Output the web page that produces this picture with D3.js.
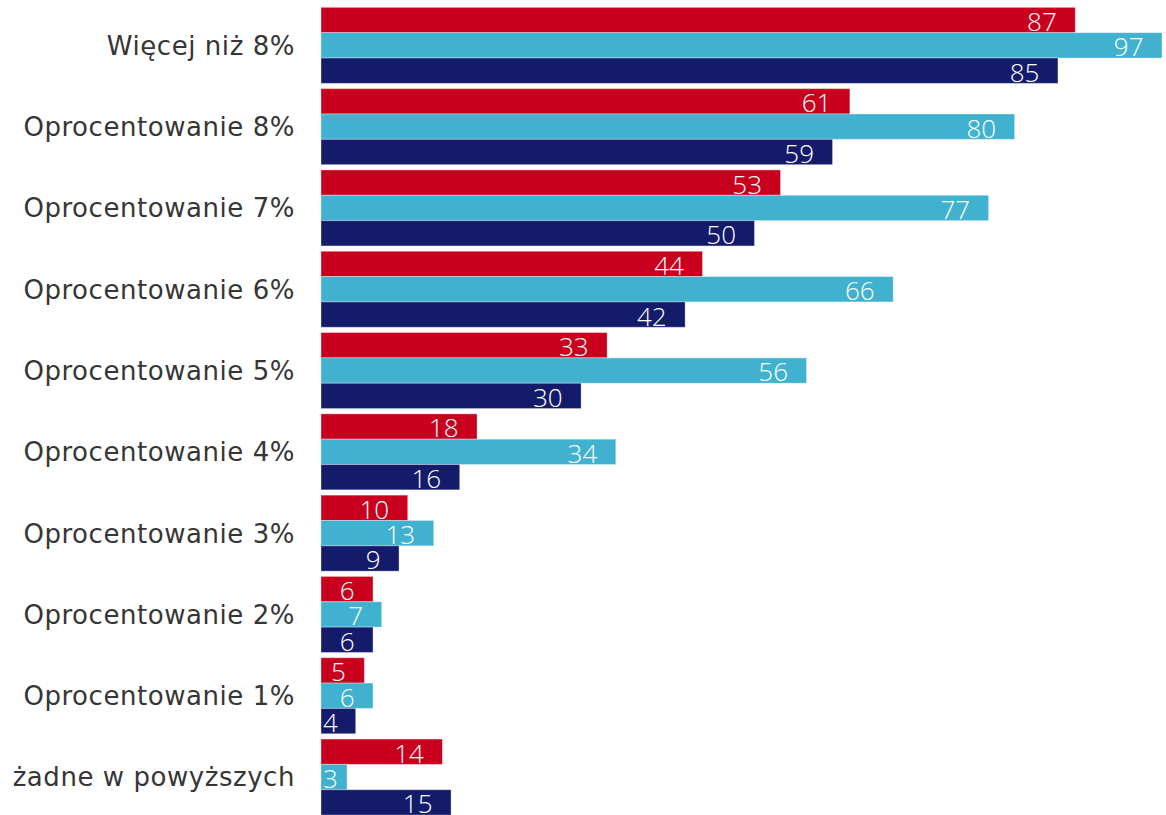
<!DOCTYPE html>
<html>
<head>
<meta charset="utf-8">
<script src="https://cdn.jsdelivr.net/npm/d3@7"></script>
<style>
  html, body { margin: 0; padding: 0; background: #fff; }
  svg { display: block; }
</style>
</head>
<body>
<svg id="chart" width="1166" height="815"></svg>
<script>
// Answer categories, top to bottom
const categories = [
  "Więcej niż 8%",
  "Oprocentowanie 8%",
  "Oprocentowanie 7%",
  "Oprocentowanie 6%",
  "Oprocentowanie 5%",
  "Oprocentowanie 4%",
  "Oprocentowanie 3%",
  "Oprocentowanie 2%",
  "Oprocentowanie 1%",
  "żadne w powyższych"
];

// Three respondent groups, one value per category
const seriesNames = ["s1", "s2", "s3"];
const redValues   = [87, 61, 53, 44, 33, 18, 10, 6, 5, 14];
const cyanValues  = [97, 80, 77, 66, 56, 34, 13, 7, 6, 3];
const navyValues  = [85, 59, 50, 42, 30, 16, 9, 6, 4, 15];
const seriesColors = ["#c8001e", "#40b1cf", "#141b6b"];

const seriesValues = [redValues, cyanValues, navyValues];
const rows = categories.map((c, i) => ({
  category: c,
  values: seriesNames.map((s, j) => ({ series: s, value: seriesValues[j][i], color: seriesColors[j] }))
}));

const svg = d3.select("#chart");

const x = d3.scaleLinear().domain([0, 100]).range([321, 1188]);

const y = d3.scaleBand()
  .domain(categories)
  .range([4.7, 817.7])
  .paddingInner(0.065)
  .paddingOuter(0.0325);

const ySub = d3.scaleBand()
  .domain(seriesNames)
  .range([0, y.bandwidth()])
  .padding(0);

// Category labels
svg.append("g")
  .selectAll("text")
  .data(categories)
  .join("text")
  .attr("x", x(0) - 26)
  .attr("y", d => y(d) + y.bandwidth() / 2)
  .attr("dy", "0.36em")
  .attr("text-anchor", "end")
  .attr("font-family", "'DejaVu Sans', Verdana, sans-serif")
  .attr("font-size", 26)
  .attr("letter-spacing", 0.55)
  .attr("fill", "#363636")
  .text(d => d);

const groups = svg.append("g")
  .selectAll("g")
  .data(rows)
  .join("g")
  .attr("transform", d => `translate(0,${y(d.category)})`);

groups.selectAll("rect")
  .data(d => d.values)
  .join("rect")
  .attr("x", x(0))
  .attr("y", d => ySub(d.series))
  .attr("width", d => x(d.value) - x(0))
  .attr("height", ySub.bandwidth())
  .attr("fill", d => d.color)
  .attr("stroke", "rgba(255,255,255,0.35)")
  .attr("stroke-width", 1);

// Value labels, inside the bar end
groups.selectAll("text.val")
  .data(d => d.values)
  .join("text")
  .attr("class", "val")
  .attr("y", d => ySub(d.series) + ySub.bandwidth() / 2)
  .attr("dy", "0.42em")
  .attr("text-anchor", "end")
  .attr("font-family", "'Open Sans', sans-serif")
  .attr("font-weight", 300)
  .attr("font-size", 26)
  .attr("fill", "#ffffff")
  .text(d => d.value)
  .attr("x", function(d) {
    const w = this.getComputedTextLength();
    return Math.max(x(d.value) - 18.5, x(0) + 2 + w);
  });
</script>
</body>
</html>
